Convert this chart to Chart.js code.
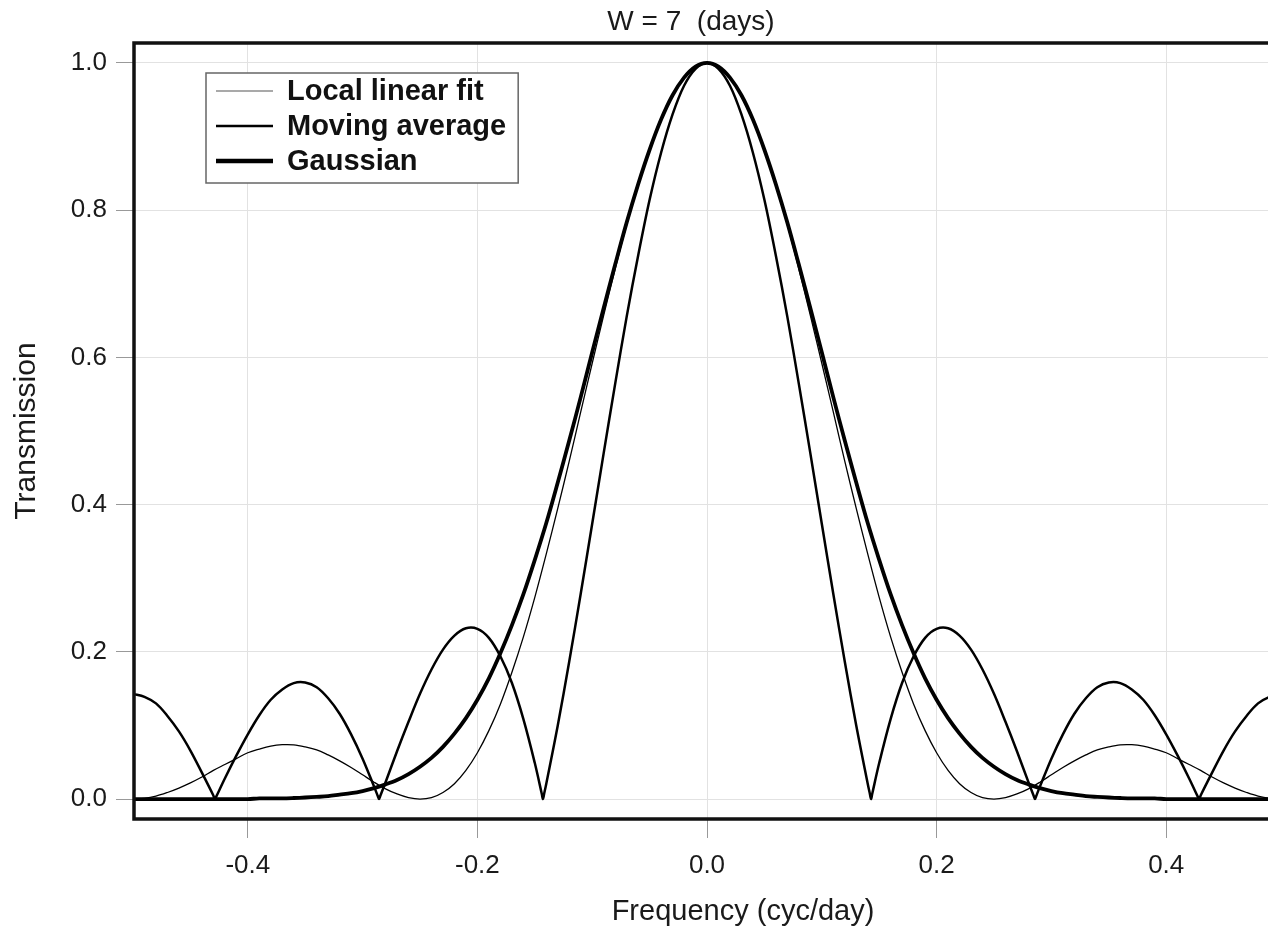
<!DOCTYPE html>
<html>
<head>
<meta charset="utf-8">
<script src="https://cdn.jsdelivr.net/npm/chart.js@4.4.1/dist/chart.umd.min.js"></script>
<style>
  html, body { margin: 0; padding: 0; background: #fff; overflow: hidden; }
  canvas { display: block; }
</style>
</head>
<body>
<canvas id="responseChart" width="1290" height="929"></canvas>
<script>
// common frequency grid (cyc/day)
const freq = [
  -0.5, -0.49, -0.48, -0.47, -0.46, -0.45, -0.44, -0.43, -0.42, -0.41,
  -0.4, -0.39, -0.38, -0.37, -0.36, -0.35, -0.34, -0.33, -0.32, -0.31,
  -0.3, -0.29, -0.28, -0.27, -0.26, -0.25, -0.24, -0.23, -0.22, -0.21,
  -0.2, -0.19, -0.18, -0.17, -0.16, -0.15, -0.14, -0.13, -0.12, -0.11,
  -0.1, -0.09, -0.08, -0.07, -0.06, -0.05, -0.04, -0.03, -0.02, -0.01,
  0,
  0.01, 0.02, 0.03, 0.04, 0.05, 0.06, 0.07, 0.08, 0.09, 0.1,
  0.11, 0.12, 0.13, 0.14, 0.15, 0.16, 0.17, 0.18, 0.19, 0.2,
  0.21, 0.22, 0.23, 0.24, 0.25, 0.26, 0.27, 0.28, 0.29, 0.3,
  0.31, 0.32, 0.33, 0.34, 0.35, 0.36, 0.37, 0.38, 0.39, 0.4,
  0.41, 0.42, 0.43, 0.44, 0.45, 0.46, 0.47, 0.48, 0.49, 0.5
];

const localLinear = [
  0, 0.001, 0.004, 0.009, 0.015, 0.022, 0.030, 0.039, 0.047, 0.055,
  0.063, 0.068, 0.072, 0.0739, 0.0737, 0.071, 0.067, 0.060, 0.052, 0.043,
  0.033, 0.023, 0.014, 0.007, 0.002, 0, 0.002, 0.009, 0.021, 0.039,
  0.063, 0.093, 0.129, 0.172, 0.220, 0.274, 0.333, 0.395, 0.459, 0.526,
  0.592, 0.657, 0.720, 0.780, 0.834, 0.882, 0.923, 0.956, 0.980, 0.995,
  1,
  0.995, 0.980, 0.956, 0.923, 0.882, 0.834, 0.780, 0.720, 0.657, 0.592,
  0.526, 0.459, 0.395, 0.333, 0.274, 0.220, 0.172, 0.129, 0.093, 0.063,
  0.039, 0.021, 0.009, 0.002, 0, 0.002, 0.007, 0.014, 0.023, 0.033,
  0.043, 0.052, 0.060, 0.067, 0.071, 0.0737, 0.0739, 0.072, 0.068, 0.063,
  0.055, 0.047, 0.039, 0.030, 0.022, 0.015, 0.009, 0.004, 0.001, 0
];

const gaussian = [
  0, 0, 0, 0, 0, 0, 0, 0, 0, 0,
  0, 0.001, 0.001, 0.001, 0.0015, 0.0022, 0.003, 0.004, 0.006, 0.008,
  0.011, 0.015, 0.020, 0.026, 0.034, 0.044, 0.056, 0.071, 0.089, 0.110,
  0.135, 0.164, 0.198, 0.236, 0.278, 0.325, 0.375, 0.430, 0.487, 0.546,
  0.607, 0.667, 0.726, 0.783, 0.835, 0.882, 0.923, 0.956, 0.980, 0.995,
  1,
  0.995, 0.980, 0.956, 0.923, 0.882, 0.835, 0.783, 0.726, 0.667, 0.607,
  0.546, 0.487, 0.430, 0.375, 0.325, 0.278, 0.236, 0.198, 0.164, 0.135,
  0.110, 0.089, 0.071, 0.056, 0.044, 0.034, 0.026, 0.020, 0.015, 0.011,
  0.008, 0.006, 0.004, 0.003, 0.0022, 0.0015, 0.001, 0.001, 0.001, 0,
  0, 0, 0, 0, 0, 0, 0, 0, 0, 0
];

// moving average has sharp nulls at k/7, so its grid carries extra points there
const maFreq = [
  -0.5, -0.49, -0.48, -0.47, -0.46, -0.45, -0.44, -0.43,
  -0.4296, -0.4286, -0.4276,
  -0.42, -0.41, -0.4, -0.39, -0.38, -0.37, -0.36, -0.35, -0.34, -0.33, -0.32, -0.31, -0.3, -0.29,
  -0.2867, -0.2857, -0.2847,
  -0.28, -0.27, -0.26, -0.25, -0.24, -0.23, -0.22, -0.21, -0.2, -0.19, -0.18, -0.17, -0.16, -0.15,
  -0.1439, -0.1429, -0.1419,
  -0.14, -0.13, -0.12, -0.11, -0.1, -0.09, -0.08, -0.07, -0.06, -0.05, -0.04, -0.03, -0.02, -0.01,
  0,
  0.01, 0.02, 0.03, 0.04, 0.05, 0.06, 0.07, 0.08, 0.09, 0.1, 0.11, 0.12, 0.13, 0.14,
  0.1419, 0.1429, 0.1439,
  0.15, 0.16, 0.17, 0.18, 0.19, 0.2, 0.21, 0.22, 0.23, 0.24, 0.25, 0.26, 0.27, 0.28,
  0.2847, 0.2857, 0.2867,
  0.29, 0.3, 0.31, 0.32, 0.33, 0.34, 0.35, 0.36, 0.37, 0.38, 0.39, 0.4, 0.41, 0.42,
  0.4276, 0.4286, 0.4296,
  0.43, 0.44, 0.45, 0.46, 0.47, 0.48, 0.49, 0.5
];

const movingAverage = [
  0.143, 0.139, 0.130, 0.113, 0.092, 0.066, 0.036, 0.005,
  0.003, 0, 0.003,
  0.028, 0.059, 0.088, 0.114, 0.135, 0.149, 0.1576, 0.1584, 0.152, 0.137, 0.116, 0.088, 0.055, 0.017,
  0.004, 0, 0.004,
  0.023, 0.065, 0.105, 0.143, 0.176, 0.203, 0.222, 0.2320, 0.2312, 0.219, 0.194, 0.158, 0.109, 0.049,
  0.007, 0, 0.007,
  0.021, 0.100, 0.187, 0.279, 0.374, 0.470, 0.564, 0.655, 0.738, 0.814, 0.878, 0.930, 0.969, 0.992,
  1,
  0.992, 0.969, 0.930, 0.878, 0.814, 0.738, 0.655, 0.564, 0.470, 0.374, 0.279, 0.187, 0.100, 0.021,
  0.007, 0, 0.007,
  0.049, 0.109, 0.158, 0.194, 0.219, 0.2312, 0.2320, 0.222, 0.203, 0.176, 0.143, 0.105, 0.065, 0.023,
  0.004, 0, 0.004,
  0.017, 0.055, 0.088, 0.116, 0.137, 0.152, 0.1584, 0.1576, 0.149, 0.135, 0.114, 0.088, 0.059, 0.028,
  0.003, 0, 0.003,
  0.005, 0.036, 0.066, 0.092, 0.113, 0.130, 0.139, 0.143
];

const xTicks = [-0.4, -0.2, 0.0, 0.2, 0.4];
const yTicks = [0.0, 0.2, 0.4, 0.6, 0.8, 1.0];

const titleText = "W = 7  (days)";
const xTitleText = "Frequency (cyc/day)";
const yTitleText = "Transmission";

const FONT = "'Liberation Sans', Arial, Helvetica, sans-serif";

const toPoints = (xs, ys) => xs.map((f, i) => ({ x: f, y: ys[i] }));

// black box around the plotting region
const plotFrame = {
    id: "plotFrame",
    afterDatasetsDraw(chart) {
        const { ctx, chartArea: a } = chart;
        ctx.save();
        ctx.strokeStyle = "#111";
        ctx.lineWidth = 3.5;
        ctx.strokeRect(a.left + 1, a.top, a.right - a.left, a.bottom - a.top);
        ctx.restore();
    }
};

// framed legend in the upper-left corner of the plot
const boxLegend = {
    id: "boxLegend",
    afterDatasetsDraw(chart) {
        const { ctx, chartArea: a } = chart;
        const sets = chart.data.datasets;
        const x0 = a.left + 73;
        const y0 = a.top + 30;
        ctx.save();
        ctx.font = "bold 29px " + FONT;
        const textW = Math.max(...sets.map((d) => ctx.measureText(d.label).width));
        const w = 81 + textW + 12;
        const h = 110;
        ctx.fillStyle = "#fff";
        ctx.fillRect(x0, y0, w, h);
        ctx.strokeStyle = "#666";
        ctx.lineWidth = 1.5;
        ctx.strokeRect(x0, y0, w, h);
        sets.forEach((ds, i) => {
            const y = y0 + 18 + i * 35;
            ctx.strokeStyle = ds.legendColor;
            ctx.lineWidth = ds.legendLineWidth;
            ctx.beginPath();
            ctx.moveTo(x0 + 10, y);
            ctx.lineTo(x0 + 67, y);
            ctx.stroke();
            ctx.fillStyle = "#111";
            ctx.textBaseline = "middle";
            ctx.textAlign = "left";
            ctx.fillText(ds.label, x0 + 81, y + 1);
        });
        ctx.restore();
    }
};

// figure title above the frame and the frequency caption under the ticks
const captions = {
    id: "captions",
    afterDraw(chart) {
        const { ctx, chartArea: a } = chart;
        const mid = (a.left + a.right) / 2;
        ctx.save();
        ctx.fillStyle = "#1a1a1a";
        ctx.textAlign = "center";
        ctx.textBaseline = "middle";
        ctx.font = "28px " + FONT;
        ctx.fillText(titleText, mid - 16, 22);
        ctx.font = "29px " + FONT;
        ctx.fillText(xTitleText, mid + 36, 912);
        ctx.restore();
    }
};

const makeSeries = (label, xs, ys, width, legendWidth, legendColor) => ({
    label,
    data: toPoints(xs, ys),
    borderColor: "#000",
    borderWidth: width,
    legendLineWidth: legendWidth,
    legendColor,
    pointRadius: 0,
    tension: 0.35,
    fill: false
});

new Chart(document.getElementById("responseChart"), {
    type: "line",
    data: {
        datasets: [
            makeSeries("Local linear fit", freq, localLinear, 1.3, 1.2, "#555"),
            makeSeries("Moving average", maFreq, movingAverage, 2.5, 2.5, "#000"),
            makeSeries("Gaussian", freq, gaussian, 3.8, 4.5, "#000")
        ]
    },
    options: {
        responsive: false,
        animation: false,
        devicePixelRatio: 1,
        layout: { padding: { left: 0, right: 9, top: 43, bottom: 0 } },
        plugins: {
            legend: { display: false },
            tooltip: { enabled: false }
        },
        scales: {
            x: {
                type: "linear",
                min: -0.5,
                max: 0.5,
                afterFit: (scale) => { scale.height = 110; },
                afterBuildTicks: (scale) => { scale.ticks = xTicks.map((v) => ({ value: v })); },
                border: { display: false },
                grid: { color: "#e2e2e2", lineWidth: 1, tickColor: "#999", tickLength: 19 },
                ticks: {
                    padding: 12,
                    color: "#1a1a1a",
                    font: { family: FONT, size: 26 },
                    maxRotation: 0,
                    callback: (v) => Number(v).toFixed(1)
                }
            },
            y: {
                type: "linear",
                min: -0.027,
                max: 1.027,
                afterFit: (scale) => { scale.width = 133; },
                afterBuildTicks: (scale) => { scale.ticks = yTicks.map((v) => ({ value: v })); },
                border: { display: false },
                grid: { color: "#e2e2e2", lineWidth: 1, tickColor: "#999", tickLength: 17 },
                ticks: {
                    padding: 9,
                    color: "#1a1a1a",
                    font: { family: FONT, size: 26 },
                    callback: (v) => Number(v).toFixed(1)
                },
                title: {
                    display: true,
                    text: yTitleText,
                    color: "#1a1a1a",
                    font: { family: FONT, size: 30 },
                    padding: { top: 9, bottom: 0 }
                }
            }
        }
    },
    plugins: [plotFrame, boxLegend, captions]
});
</script>
</body>
</html>
